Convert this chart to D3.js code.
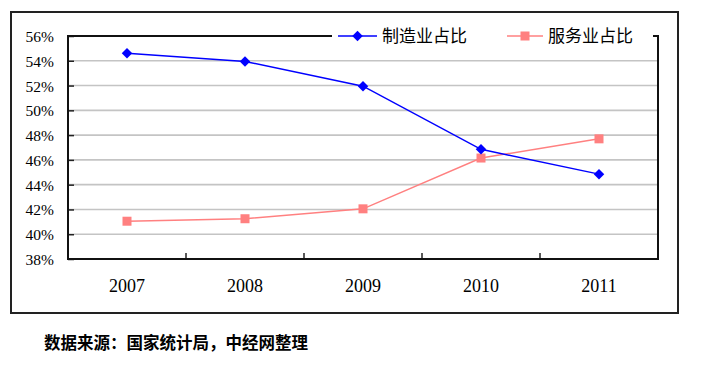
<!DOCTYPE html>
<html>
<head>
<meta charset="utf-8">
<script src="https://cdn.jsdelivr.net/npm/d3@7"></script>
<style>
  html, body { margin: 0; padding: 0; background: #fff; }
  svg { display: block; }
</style>
</head>
<body>
<svg id="chart" width="707" height="367"></svg>
<script>
const years = ["2007", "2008", "2009", "2010", "2011"];
const manufacturing = [54.6, 53.95, 51.95, 46.85, 44.85];
const services = [41.05, 41.25, 42.05, 46.15, 47.7];
const yTicks = [38, 40, 42, 44, 46, 48, 50, 52, 54, 56];
const seriesNames = ["制造业占比", "服务业占比"];
const sourceNote = "数据来源：国家统计局，中经网整理";

const serif = "'Liberation Serif', 'Times New Roman', 'DejaVu Serif', serif";
const svg = d3.select("#chart");
const plot = { left: 68, right: 658, top: 36, bottom: 259 };

// outer frame
svg.append("rect")
  .attr("x", 11).attr("y", 12).attr("width", 667).attr("height", 301)
  .attr("fill", "none").attr("stroke", "#222").attr("stroke-width", 2);

const x = d3.scaleBand().domain(years).range([plot.left, plot.right]).padding(0);
const y = d3.scaleLinear().domain([38, 56]).range([plot.bottom, plot.top]);

// gridlines
svg.append("g").selectAll("line")
  .data(yTicks.filter(t => t > 38 && t < 56))
  .join("line")
  .attr("x1", plot.left).attr("x2", plot.right)
  .attr("y1", d => y(d)).attr("y2", d => y(d))
  .attr("stroke", "#c4c4c4").attr("stroke-width", 1.6);

// y axis
const yAxis = d3.axisRight(y).tickValues(yTicks).tickSize(6).tickFormat("");
const gy = svg.append("g").attr("transform", `translate(${plot.left},0)`).call(yAxis);
gy.select(".domain").remove();
gy.selectAll("line").attr("stroke", "#222").attr("stroke-width", 1.5);

svg.append("g").selectAll("text")
  .data(yTicks)
  .join("text")
  .attr("x", 54).attr("y", d => y(d) + 6)
  .attr("text-anchor", "end")
  .style("font-family", serif)
  .style("font-size", "15.5px")
  .attr("fill", "#000")
  .text(d => d + "%");

// x axis
const xAxis = d3.axisTop(x).tickSize(6).tickFormat("");
const gx = svg.append("g").attr("transform", `translate(0,${plot.bottom})`).call(xAxis);
gx.select(".domain").remove();
gx.selectAll(".tick").attr("transform", d => `translate(${x(d)},0)`);
gx.selectAll(".tick").filter((d, i) => i === 0).remove();
gx.selectAll("line").attr("stroke", "#222").attr("stroke-width", 1.5);

svg.append("g").selectAll("text")
  .data(years)
  .join("text")
  .attr("x", d => x(d) + x.bandwidth() / 2)
  .attr("y", 292)
  .attr("text-anchor", "middle")
  .style("font-family", serif)
  .style("font-size", "18px")
  .attr("fill", "#000")
  .text(d => d);

// plot frame
svg.append("rect")
  .attr("x", plot.left).attr("y", plot.top)
  .attr("width", plot.right - plot.left).attr("height", plot.bottom - plot.top)
  .attr("fill", "none").attr("stroke", "#111").attr("stroke-width", 2);

const cx = d => x(d) + x.bandwidth() / 2;
const line = d3.line().x(d => cx(d.year)).y(d => y(d.v));

const mData = years.map((yr, i) => ({ year: yr, v: manufacturing[i] }));
const sData = years.map((yr, i) => ({ year: yr, v: services[i] }));

// services line
svg.append("path").datum(sData)
  .attr("d", line).attr("fill", "none")
  .attr("stroke", "#ff8080").attr("stroke-width", 1.5);
svg.append("g").selectAll("rect")
  .data(sData).join("rect")
  .attr("x", d => cx(d.year) - 4.5).attr("y", d => y(d.v) - 4.5)
  .attr("width", 9).attr("height", 9)
  .attr("fill", "#ff8080");

// manufacturing line
svg.append("path").datum(mData)
  .attr("d", line).attr("fill", "none")
  .attr("stroke", "#0000ff").attr("stroke-width", 1.5);
const diamond = d3.symbol().type(d3.symbolDiamond2).size(70);
svg.append("g").selectAll("path")
  .data(mData).join("path")
  .attr("transform", d => `translate(${cx(d.year)},${y(d.v)})`)
  .attr("d", diamond)
  .attr("fill", "#0000ff");

// legend
const lg = svg.append("g");
lg.append("rect").attr("x", 332).attr("y", 24).attr("width", 321).attr("height", 24).attr("fill", "#fff");
const legendItems = [
  { name: seriesNames[0], color: "#0000ff", x0: 338, x1: 377, tx: 382, shape: "diamond" },
  { name: seriesNames[1], color: "#ff8080", x0: 507, x1: 543, tx: 548, shape: "square" }
];
legendItems.forEach(it => {
  const ly = 36;
  lg.append("line").attr("x1", it.x0).attr("x2", it.x1).attr("y1", ly).attr("y2", ly)
    .attr("stroke", it.color).attr("stroke-width", 1.5);
  const mx = (it.x0 + it.x1) / 2;
  if (it.shape === "diamond") {
    lg.append("path").attr("transform", `translate(${mx},${ly})`).attr("d", diamond).attr("fill", it.color);
  } else {
    lg.append("rect").attr("x", mx - 4.5).attr("y", ly - 4.5).attr("width", 9).attr("height", 9).attr("fill", it.color);
  }
  lg.append("text").attr("x", it.tx).attr("y", ly).attr("dy", "0.36em")
    .style("font-family", "'Noto Sans CJK SC', sans-serif")
    .style("font-size", "17px").attr("fill", "#000").text(it.name);
});

// source note
svg.append("text")
  .attr("x", 44).attr("y", 343).attr("dy", "0.36em")
  .style("font-family", "'Noto Sans CJK SC', sans-serif")
  .style("font-weight", "bold")
  .style("font-size", "16.5px").attr("fill", "#000")
  .text(sourceNote);
</script>
</body>
</html>
